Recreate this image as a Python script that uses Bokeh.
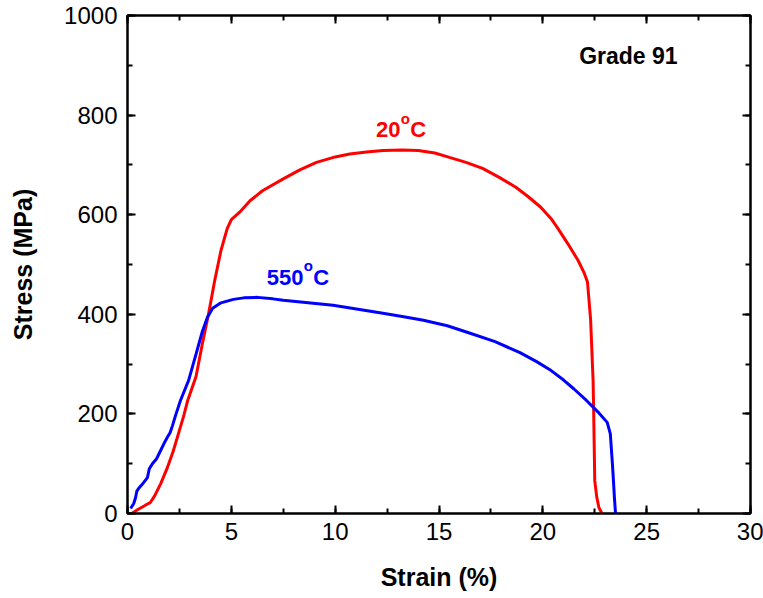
from bokeh.plotting import figure
from bokeh.models import LinearAxis, Range1d, SingleIntervalTicker
from bokeh.core.properties import value
from bokeh.embed import file_html
from bokeh.resources import INLINE

# ---- data ----
strain_20 = [0.2, 0.5, 0.8, 1.0, 1.1, 1.3, 1.6, 1.9, 2.2, 2.4, 2.7, 2.9, 3.3, 3.6, 3.9,
             4.2, 4.5, 4.8, 5.0, 5.4, 5.9, 6.5, 7.5, 8.3, 9.1, 10.0, 10.7, 11.5, 12.3,
             13.2, 14.0, 14.8, 15.5, 16.3, 17.1, 17.9, 18.7, 19.3, 19.9, 20.4, 20.7,
             21.2, 21.7, 22.0, 22.15, 22.3, 22.42, 22.45, 22.5, 22.6, 22.7, 22.85]
stress_20 = [0, 8, 15, 20, 22, 35, 60, 90, 125, 153, 195, 227, 275, 340, 400,
             468, 528, 572, 590, 605, 628, 648, 672, 690, 705, 716, 722, 726, 729,
             730, 729, 724, 715, 705, 693, 675, 655, 636, 615, 592, 574,
             542, 508, 482, 465, 390, 267, 200, 66, 32, 12, 0]

strain_550 = [0.15, 0.3, 0.39, 0.45, 0.53, 0.7, 0.96, 1.05, 1.2, 1.4, 1.6, 1.75, 1.92,
              2.05, 2.17, 2.3, 2.55, 2.94, 3.3, 3.6, 3.85, 4.1, 4.5, 5.1, 5.6, 6.26,
              7.0, 7.5, 8.7, 9.9, 11.1, 12.3, 13.3, 14.25, 15.4, 16.5, 17.7, 18.9,
              19.7, 20.4, 21.0, 21.5, 22.1, 22.7, 23.1, 23.25, 23.35, 23.4, 23.45, 23.5]
stress_550 = [10, 20, 32, 45, 50, 58, 72, 90, 100, 110, 127, 140, 153,
              162, 177, 195, 227, 267, 320, 365, 394, 412, 423, 430, 433, 434,
              431, 428, 423, 418, 410, 402, 395, 388, 377, 362, 345, 323,
              305, 287, 268, 250, 227, 202, 183, 160, 100, 66, 30, 0]

FONT = "Liberation Sans"

p = figure(width=763, height=598, output_backend="svg", toolbar_location=None,
           x_range=Range1d(0, 30), y_range=Range1d(0, 1000),
           min_border_left=127, min_border_right=13, min_border_top=15,
           min_border_bottom=85, x_axis_label="Strain (%)", y_axis_label="Stress (MPa)")

p.grid.visible = False
p.outline_line_color = "black"
p.outline_line_width = 2
p.background_fill_color = "white"
p.border_fill_color = "white"

def style_axis(ax, show_labels=True):
    ax.axis_line_width = 2
    ax.axis_line_color = "black"
    ax.major_tick_in = 8
    ax.major_tick_out = 0
    ax.minor_tick_in = 5
    ax.minor_tick_out = 0
    ax.major_tick_line_width = 2
    ax.minor_tick_line_width = 2
    ax.major_label_text_font = FONT
    ax.major_label_text_font_size = "24px"
    ax.major_label_text_color = "black"
    ax.axis_label_text_font = FONT
    ax.axis_label_text_font_size = "25px"
    ax.axis_label_text_font_style = "bold"
    ax.axis_label_text_color = "black"
    if not show_labels:
        ax.major_label_text_font_size = "0px"
        ax.major_label_text_color = None

p.xaxis.ticker = SingleIntervalTicker(interval=5, num_minor_ticks=2)
p.yaxis.ticker = SingleIntervalTicker(interval=200, num_minor_ticks=2)
for ax in p.xaxis:
    style_axis(ax)
    ax.major_label_standoff = 9
    ax.axis_label_standoff = 20
for ax in p.yaxis:
    style_axis(ax)
    ax.major_label_standoff = 10
    ax.axis_label_standoff = 24

top = LinearAxis(ticker=SingleIntervalTicker(interval=5, num_minor_ticks=2))
style_axis(top, False)
top.major_label_standoff = 0
p.add_layout(top, "above")
right = LinearAxis(ticker=SingleIntervalTicker(interval=200, num_minor_ticks=2))
style_axis(right, False)
right.major_label_standoff = 0
p.add_layout(right, "right")

p.line(strain_20, stress_20, line_color="#FF0000", line_width=3)
p.line(strain_550, stress_550, line_color="#0000FF", line_width=3)

def deg_label(x_num_right, y_base, num, color):
    p.text(x=[x_num_right], y=[y_base], text=[num], text_color=color,
           text_font=value(FONT), text_font_size="22px", text_font_style="bold",
           text_align="right", text_baseline="alphabetic")
    p.text(x=[x_num_right + 0.02], y=[y_base + 23], text=["o"], text_color=color,
           text_font=value(FONT), text_font_size="15px", text_font_style="bold",
           text_align="left", text_baseline="alphabetic")
    p.text(x=[x_num_right + 0.48], y=[y_base], text=["C"], text_color=color,
           text_font=value(FONT), text_font_size="22px", text_font_style="bold",
           text_align="left", text_baseline="alphabetic")

deg_label(13.14, 771, "20", "#FF0000")
deg_label(8.47, 474, "550", "#0000FF")

p.text(x=[21.75], y=[918], text=["Grade 91"], text_color="black",
       text_font=value(FONT), text_font_size="23px", text_font_style="bold",
       text_align="left", text_baseline="alphabetic")

open("out.html", "w").write(file_html(p, INLINE))
